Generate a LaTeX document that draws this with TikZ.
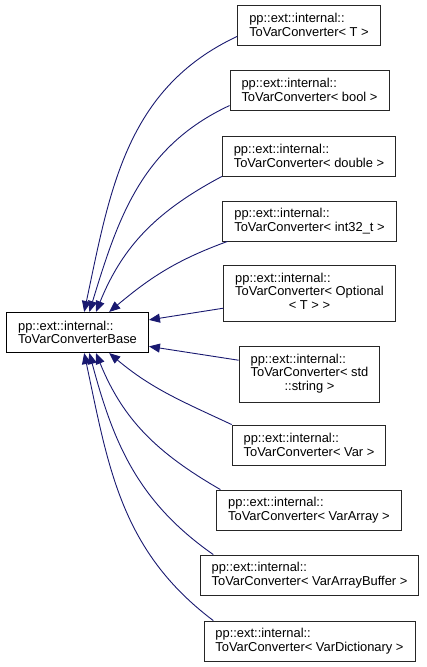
\documentclass[tikz,border=0pt]{standalone}
\usepackage{fontspec}
\setmainfont{Liberation Sans}
\usetikzlibrary{arrows.meta, positioning}
\definecolor{edgeblue}{HTML}{191970}
\tikzset{
  cls/.style={draw=black!85, fill=white, line width=0.9pt,
    font=\fontsize{12.9}{13.4}\selectfont, align=left,
    inner xsep=11.5pt, inner ysep=2pt, minimum height=40pt},
  clsbase/.style={cls, draw=black, line width=1.1pt},
  inherit/.style={-{Triangle[length=11pt, width=9pt]}, edgeblue, line width=0.9pt}
}

\begin{document}
\begin{tikzpicture}[x=1pt, y=-1pt]
  \useasboundingbox (0,0) rectangle (427,667);

  \node[clsbase] (base) at (77.5,332.5) {pp::ext::internal::\\ToVarConverterBase};

  \node[cls] (convT) at (309,25) {pp::ext::internal::\\ToVarConverter< T >};
  \node[cls] (convBool) at (309.5,90) {pp::ext::internal::\\ToVarConverter< bool >};
  \node[cls] (convDouble) at (309,156) {pp::ext::internal::\\ToVarConverter< double >};
  \node[cls] (convInt) at (309.5,221) {pp::ext::internal::\\ToVarConverter< int32\_t >};
  \node[cls, minimum height=56pt] (convOptional) at (309.5,293)
    {\begin{tabular}{@{}l@{}}pp::ext::internal::\\ToVarConverter< Optional\\\multicolumn{1}{@{}c@{}}{< T > >}\end{tabular}};
  \node[cls, minimum height=56pt] (convString) at (309.5,374)
    {\begin{tabular}{@{}l@{}}pp::ext::internal::\\ToVarConverter< std\\\multicolumn{1}{@{}c@{}}{::string >}\end{tabular}};
  \node[cls] (convVar) at (309,445) {pp::ext::internal::\\ToVarConverter< Var >};
  \node[cls] (convArray) at (309,510) {pp::ext::internal::\\ToVarConverter< VarArray >};
  \node[cls] (convBuffer) at (309.5,575) {pp::ext::internal::\\ToVarConverter< VarArrayBuffer >};
  \node[cls] (convDict) at (309.5,641) {pp::ext::internal::\\ToVarConverter< VarDictionary >};

  \draw[inherit] (convT.189) to[out=205, in=78] (base.72);
  \draw[inherit] (convBool.191) to[out=205, in=73] (base.60);
  \draw[inherit] (convDouble.south west) to[out=208, in=68] (base.48);
  \draw[inherit] (convInt.194) to[out=200, in=40] (base.33);
  \draw[inherit] (convOptional.190) -- (base.10);
  \draw[inherit] (convString.169) -- (base.349);
  \draw[inherit] (convVar.north west) to[out=155, in=320] (base.327);
  \draw[inherit] (convArray.167) to[out=150, in=292] (base.312);
  \draw[inherit] (convBuffer.168) to[out=145, in=285] (base.300);
  \draw[inherit] (convDict.168) to[out=143, in=282] (base.288);
\end{tikzpicture}
\end{document}
